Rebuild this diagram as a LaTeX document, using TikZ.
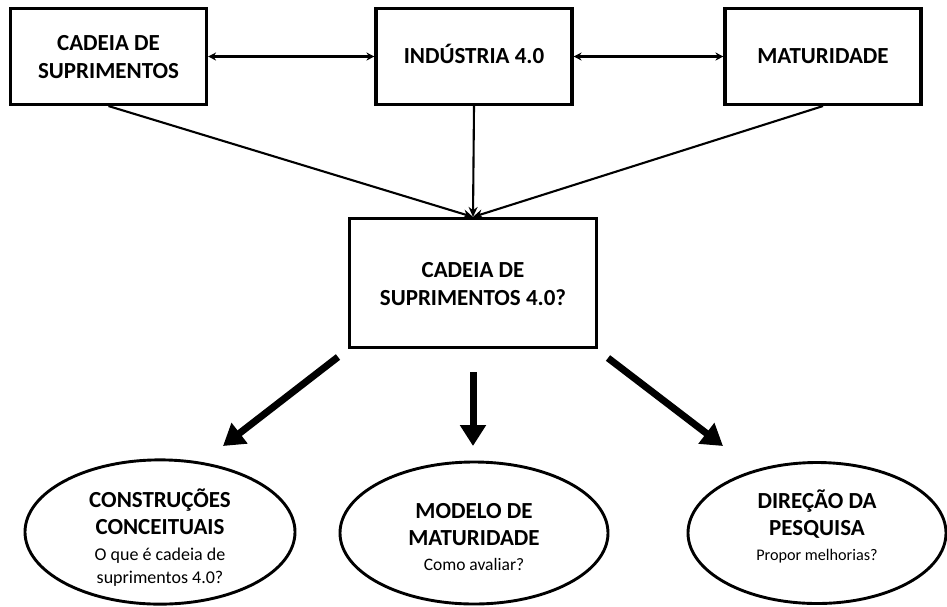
\documentclass[tikz,border=0pt]{standalone}
\usepackage{fontspec}
\setmainfont{Carlito}
\usetikzlibrary{arrows.meta,shapes.geometric}

% question lines inside the ovals
\newcommand\askA{\mdseries\fontsize{18}{22}\selectfont}
\newcommand\askB{\mdseries\fontsize{17.5}{21}\selectfont}
\newcommand\askC{\mdseries\fontsize{16.2}{20}\selectfont}

\tikzset{
  topbox/.style={draw, line width=3.1pt, minimum width=196pt, minimum height=96pt,
    inner sep=0pt, align=center, text depth=0pt,
    font=\bfseries\fontsize{23}{28}\selectfont},
  hubbox/.style={topbox, minimum width=247pt, minimum height=129pt},
  oval/.style={draw, ellipse, line width=2.9pt, inner sep=0pt, align=center,
    text depth=0pt, font=\bfseries\fontsize{23}{27}\selectfont},
  link/.style={line width=2.1pt, -{Stealth[length=10pt,width=9pt]}},
  twoway/.style={line width=2.1pt, {Stealth[length=8pt,width=8pt]}-{Stealth[length=8pt,width=8pt]}},
  bigarrow/.style={line width=7pt, -{Triangle[length=21pt,width=25pt]}}
}

\begin{document}
\begin{tikzpicture}[x=1pt,y=-1pt]
  \useasboundingbox (0,0) rectangle (947,606);

  % top row of concepts
  \node[topbox, text height=43pt] (sc)  at (108.5,56.5) {CADEIA DE\\SUPRIMENTOS};
  \node[topbox, text height=13pt] (ind) at (474,56.5)   {INDÚSTRIA 4.0};
  \node[topbox, text height=13pt] (mat) at (823,56.5)   {MATURIDADE};

  % central question
  \node[hubbox, text height=44pt] (hub) at (473,283) {CADEIA DE\\SUPRIMENTOS 4.0?};

  % outcomes
  \node[oval, minimum width=270pt, minimum height=140pt, text height=102pt] (cc) at (160,532)
    {CONSTRUÇÕES\\CONCEITUAIS\\[-1.5pt]{\askA O que é cadeia de}\\[-4pt]{\askA suprimentos 4.0?}};
  \node[oval, minimum width=268pt, minimum height=142pt, text height=74pt] (mm) at (474,533)
    {MODELO DE\\MATURIDADE\\[-2pt]{\askB Como avaliar?}};
  \node[oval, minimum width=258pt, minimum height=141pt, text height=54pt] (dp) at (817,533)
    {DIREÇÃO DA\\PESQUISA\\[-2pt]{\askC Propor melhorias?}};

  % links between the top concepts
  \draw[twoway] (sc.east) -- (ind.west);
  \draw[twoway] (ind.east) -- (mat.west);

  % convergence onto the central question
  \coordinate (meet) at (hub.north);
  \draw[link] (sc.south) -- (meet);
  \draw[link] (ind.south) -- (meet);
  \draw[link] (mat.south) -- (meet);

  % bold arrows towards the outcomes
  \coordinate (l0) at (338,357);
  \coordinate (l1) at (223,446);
  \coordinate (m0) at (473,372);
  \coordinate (m1) at (473,446);
  \coordinate (r0) at (608,358);
  \coordinate (r1) at (723,446);
  \draw[bigarrow] (l0) -- (l1);
  \draw[bigarrow] (m0) -- (m1);
  \draw[bigarrow] (r0) -- (r1);
\end{tikzpicture}
\end{document}
